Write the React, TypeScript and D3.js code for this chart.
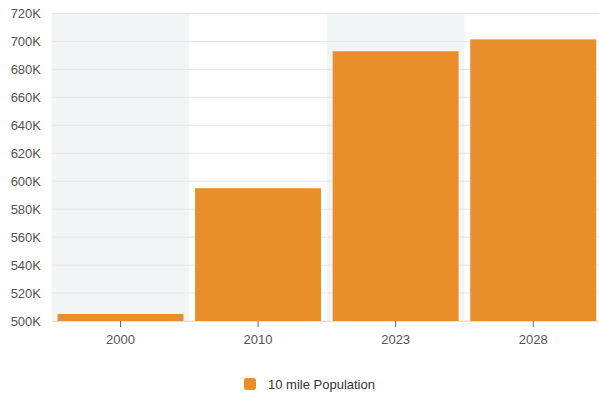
import React from "react";
import * as d3 from "d3";

const categories = ["2000", "2010", "2023", "2028"];
const population = [505000, 595000, 693000, 701500];
const yTicks = [500000, 520000, 540000, 560000, 580000, 600000, 620000, 640000, 660000, 680000, 700000, 720000];
const seriesName = "10 mile Population";

const W = 599;
const H = 394;
const left = 51.7;
const right = 602;
const top = 13.5;
const bottom = 321;

export default function App() {
  const x = d3.scaleBand<string>().domain(categories).range([left, right]).paddingInner(0).paddingOuter(0);
  const y = d3.scaleLinear().domain([500000, 720000]).range([bottom, top]);
  const pad = 5.8;
  const fmt = (v: number) => `${Math.round(v / 1000)}K`;
  const font = "'Liberation Sans', Arial, Helvetica, sans-serif";
  return (
    <svg width={W} height={H} style={{ position: "absolute", left: 0, top: 0, fontFamily: font }}>
      <rect width={W} height={H} fill="#fff" />
      {categories.map((c, i) =>
        i % 2 === 0 ? (
          <rect key={c} x={x(c)} y={top} width={x.bandwidth()} height={bottom - top} fill="#F3F4F6" />
        ) : null
      )}
      {yTicks.map((t) => (
        <g key={t}>
          <line x1={left} x2={W} y1={y(t)} y2={y(t)} stroke="#E6E6E6" strokeWidth={1} />
          <text x={41} y={y(t)} dy="0.35em" textAnchor="end" fontSize={13} fill="#555">
            {fmt(t)}
          </text>
        </g>
      ))}
      {categories.map((c, i) => (
        <rect
          key={c}
          x={(x(c) as number) + pad}
          y={y(population[i])}
          width={x.bandwidth() - 2 * pad}
          height={bottom - y(population[i])}
          fill="#E88E2B"
        />
      ))}
      <line x1={left} x2={W} y1={bottom + 0.5} y2={bottom + 0.5} stroke="#E0E0E0" />
      {categories.map((c) => {
        const cx = (x(c) as number) + x.bandwidth() / 2;
        return (
          <g key={c}>
            <line x1={cx} x2={cx} y1={bottom} y2={bottom + 6} stroke="#666" strokeWidth={1} />
            <text x={cx} y={339} dy="0.35em" textAnchor="middle" fontSize={13} fill="#555">
              {c}
            </text>
          </g>
        );
      })}
      <rect x={244} y={378} width={12} height={12} rx={2.5} fill="#E88E2B" />
      <text x={268} y={384} dy="0.35em" fontSize={13} fill="#333">
        {seriesName}
      </text>
    </svg>
  );
}
